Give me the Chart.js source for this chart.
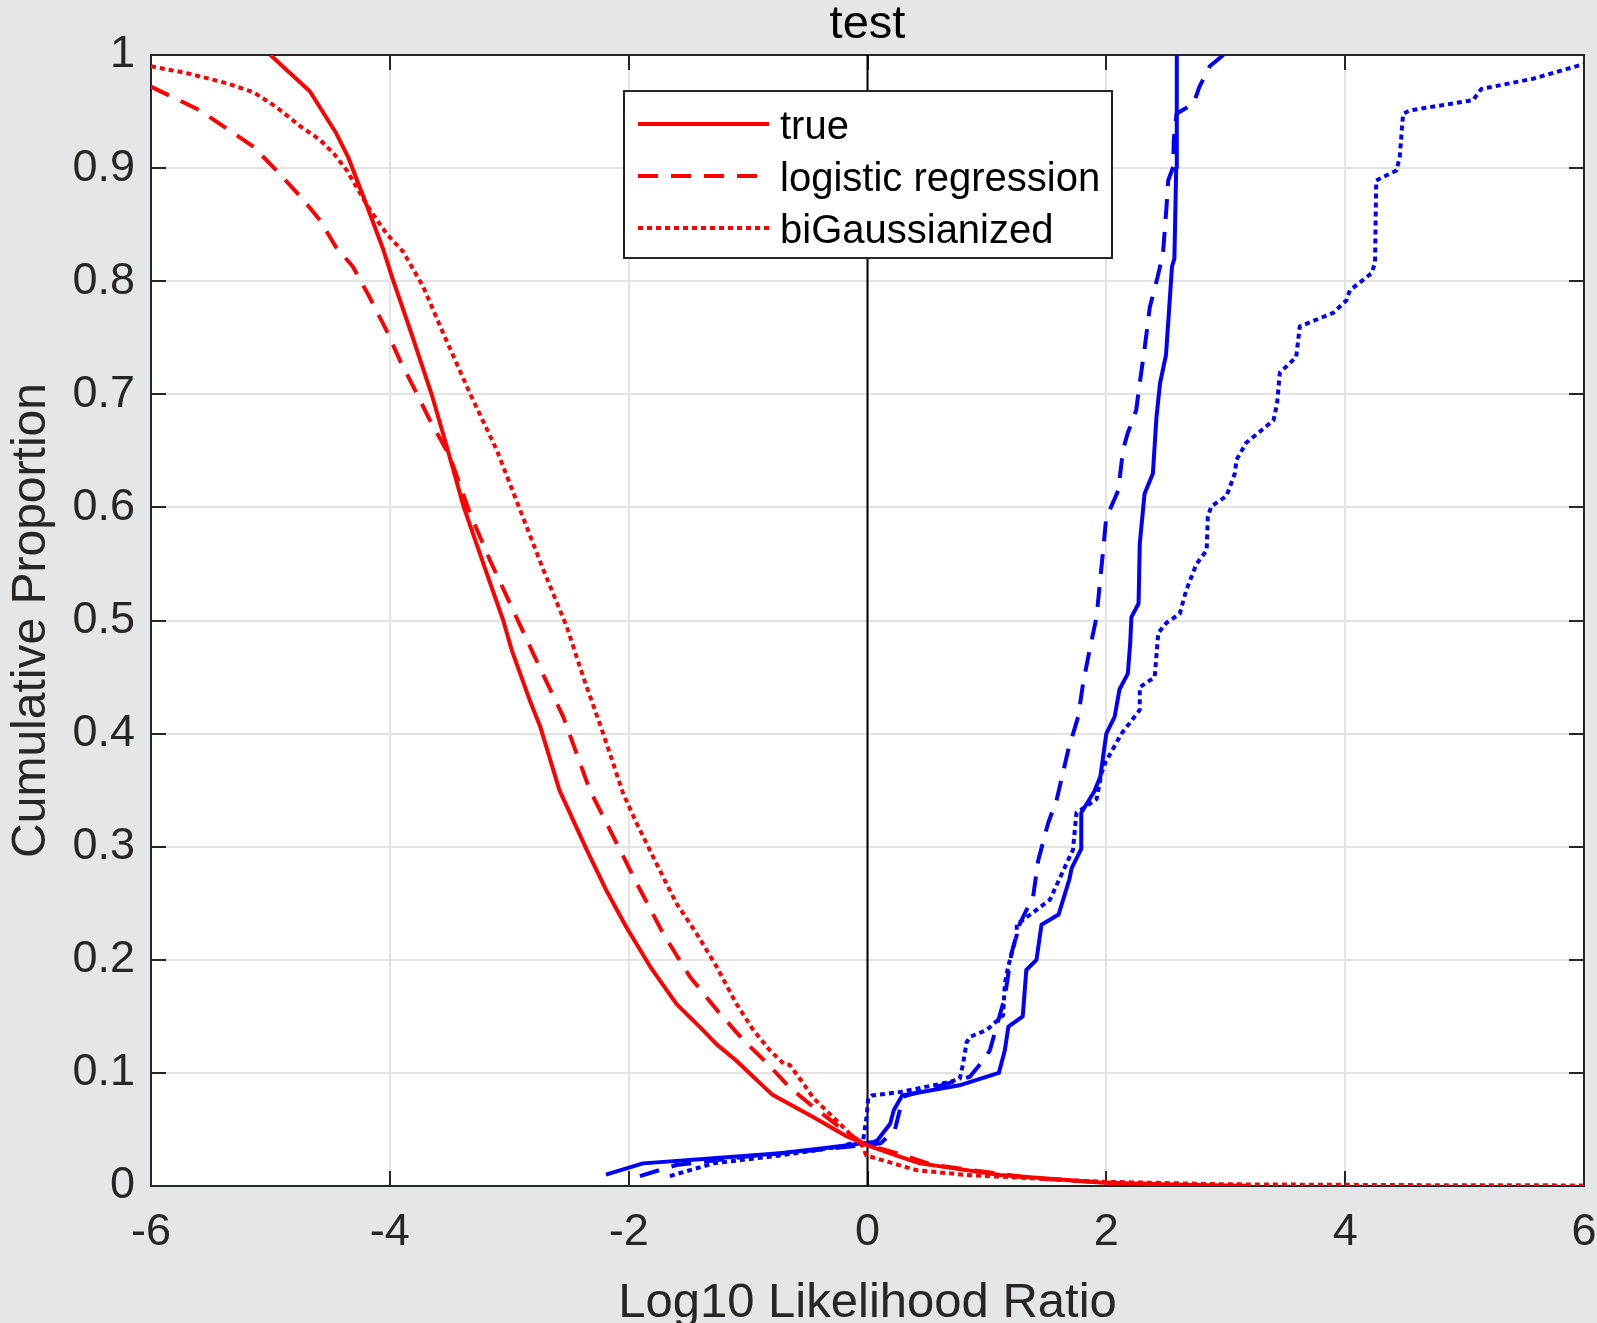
<!DOCTYPE html>
<html>
<head>
<meta charset="utf-8">
<title>test</title>
<script src="https://cdn.jsdelivr.net/npm/chart.js@4.4.1/dist/chart.umd.min.js"></script>
<style>
  html, body { margin: 0; padding: 0; background: #e5e6e8; }
  #wrap { width: 1597px; height: 1323px; }
</style>
</head>
<body>
<div id="wrap"><canvas id="cdf"></canvas></div>
<script>
// Cumulative proportions vs. log10 likelihood ratio
const xTicks = [-6, -4, -2, 0, 2, 4, 6];
const yTicks = [0, 0.1, 0.2, 0.3, 0.4, 0.5, 0.6, 0.7, 0.8, 0.9, 1];

// red: decreasing curves
const redTrueX = [-5.0, -4.67, -4.45, -4.35, -4.19, -4.055, -3.97, -3.82, -3.65, -3.54, -3.38, -3.16, -3.05, -2.98, -2.83, -2.74, -2.58, -2.35, -2.19, -2.02, -1.82, -1.60, -1.38, -1.26, -1.10, -0.80, -0.455, -0.175, 0, 0.27, 0.44, 1.11, 1.95, 2.59, 3.2];
const redTrueY = [1.0, 0.968, 0.931, 0.91, 0.866, 0.828, 0.8, 0.754, 0.7, 0.66, 0.6, 0.533, 0.5, 0.474, 0.43, 0.406, 0.35, 0.297, 0.262, 0.229, 0.194, 0.161, 0.138, 0.125, 0.111, 0.081, 0.061, 0.044, 0.036, 0.026, 0.02, 0.0097, 0.003, 0.001, 0.0003];

const redLogX = [-6.0, -5.59, -5.366, -5.143, -4.95, -4.75, -4.585, -4.45, -4.31, -4.17, -4.03, -3.915, -3.776, -3.664, -3.497, -3.33, -3.16, -2.967, -2.80, -2.63, -2.548, -2.325, -2.10, -1.934, -1.71, -1.487, -1.264, -1.04, -0.845, -0.65, -0.455, -0.232, -0.036, 0.243, 0.55, 1.387, 2.0, 2.8];
const redLogY = [0.972, 0.951, 0.935, 0.919, 0.898, 0.875, 0.854, 0.830, 0.813, 0.786, 0.757, 0.730, 0.701, 0.677, 0.645, 0.595, 0.553, 0.509, 0.471, 0.433, 0.415, 0.350, 0.303, 0.268, 0.223, 0.185, 0.156, 0.129, 0.109, 0.087, 0.070, 0.052, 0.0377, 0.029, 0.0186, 0.0068, 0.003, 0.0005];

const redBgX = [-6.0, -5.70, -5.366, -5.14, -4.95, -4.75, -4.585, -4.47, -4.36, -4.25, -4.166, -4.027, -3.888, -3.72, -3.553, -3.33, -3.106, -2.91, -2.715, -2.52, -2.38, -2.213, -2.046, -1.934, -1.767, -1.60, -1.43, -1.264, -1.10, -0.957, -0.818, -0.70, -0.65, -0.54, -0.455, -0.26, -0.04, -0.01, 0.215, 0.41, 0.83, 1.387, 1.945, 3.0, 4.5, 6.0];
const redBgY = [0.990, 0.984, 0.975, 0.967, 0.954, 0.937, 0.925, 0.913, 0.898, 0.878, 0.863, 0.842, 0.826, 0.795, 0.754, 0.701, 0.651, 0.598, 0.545, 0.495, 0.45, 0.40, 0.347, 0.321, 0.285, 0.25, 0.223, 0.194, 0.1615, 0.138, 0.120, 0.108, 0.107, 0.091, 0.078, 0.058, 0.035, 0.027, 0.020, 0.014, 0.0097, 0.0068, 0.0038, 0.0015, 0.0008, 0.0005];

// blue: increasing curves
const blueTrueX = [-2.19, -1.88, -1.29, -0.73, -0.32, 0.05, 0.08, 0.19, 0.22, 0.29, 0.77, 1.10, 1.15, 1.18, 1.30, 1.33, 1.415, 1.457, 1.60, 1.69, 1.71, 1.79, 1.79, 1.90, 1.95, 2.0, 2.07, 2.11, 2.18, 2.2, 2.21, 2.27, 2.28, 2.32, 2.39, 2.42, 2.45, 2.50, 2.55, 2.57, 2.585, 2.59];
const blueTrueY = [0.01, 0.02, 0.0245, 0.029, 0.034, 0.039, 0.040, 0.055, 0.067, 0.08, 0.089, 0.1, 0.12, 0.141, 0.15, 0.191, 0.2, 0.231, 0.24, 0.271, 0.281, 0.298, 0.33, 0.349, 0.362, 0.40, 0.415, 0.439, 0.453, 0.48, 0.503, 0.515, 0.568, 0.612, 0.63, 0.68, 0.71, 0.735, 0.813, 0.82, 0.9, 1.0];

const blueLogX = [-1.906, -1.60, -1.013, -0.315, 0.11, 0.229, 0.27, 0.30, 0.857, 0.969, 1.025, 1.15, 1.206, 1.276, 1.387, 1.43, 1.513, 1.583, 1.68, 1.764, 1.805, 1.86, 1.918, 1.946, 1.973, 2.0, 2.03, 2.1, 2.14, 2.18, 2.22, 2.25, 2.28, 2.32, 2.364, 2.43, 2.475, 2.504, 2.518, 2.56, 2.565, 2.588, 2.73, 2.78, 2.866, 2.98];
const blueLogY = [0.0088, 0.0186, 0.026, 0.033, 0.0377, 0.0495, 0.067, 0.079, 0.0966, 0.111, 0.12, 0.167, 0.206, 0.232, 0.256, 0.288, 0.321, 0.341, 0.385, 0.415, 0.444, 0.474, 0.503, 0.533, 0.562, 0.592, 0.598, 0.615, 0.651, 0.666, 0.677, 0.686, 0.710, 0.74, 0.777, 0.804, 0.825, 0.866, 0.889, 0.901, 0.925, 0.948, 0.957, 0.972, 0.990, 1.0];

const blueBgX = [-1.655, -1.29, -0.734, -0.232, -0.036, -0.008, 0.006, 0.034, 0.27, 0.69, 0.773, 0.80, 0.83, 0.86, 1.0, 1.136, 1.15, 1.178, 1.25, 1.25, 1.30, 1.527, 1.666, 1.72, 1.75, 1.918, 1.96, 1.99, 2.127, 2.28, 2.28, 2.405, 2.435, 2.504, 2.615, 2.67, 2.755, 2.84, 2.85, 2.88, 3.006, 3.076, 3.09, 3.17, 3.40, 3.43, 3.453, 3.59, 3.62, 3.9, 4.01, 4.04, 4.22, 4.25, 4.26, 4.43, 4.457, 4.485, 4.54, 5.07, 5.14, 5.573, 6.0];
const blueBgY = [0.0088, 0.020, 0.027, 0.0347, 0.0407, 0.061, 0.0775, 0.080, 0.083, 0.092, 0.095, 0.108, 0.127, 0.132, 0.138, 0.151, 0.179, 0.194, 0.222, 0.232, 0.235, 0.253, 0.285, 0.297, 0.330, 0.342, 0.365, 0.374, 0.400, 0.421, 0.441, 0.450, 0.489, 0.498, 0.506, 0.527, 0.550, 0.562, 0.592, 0.601, 0.610, 0.630, 0.642, 0.657, 0.677, 0.692, 0.719, 0.733, 0.760, 0.772, 0.783, 0.792, 0.807, 0.816, 0.889, 0.898, 0.910, 0.948, 0.951, 0.960, 0.970, 0.979, 0.992];

// x = 0 reference line
const zeroLineX = [0, 0];
const zeroLineY = [0, 1];

const FONT = "'Liberation Sans', Arial, Helvetica, sans-serif";
const AXIS_COLOR = "#262626";
const DASH = [20, 13];
const DOT = [5, 4];

const pts = (xs, ys) => xs.map((x, i) => ({ x: x, y: ys[i] }));

function curve(label, xs, ys, color, dash, order, inLegend) {
  return {
    label: label,
    data: pts(xs, ys),
    borderColor: color,
    borderWidth: 4,
    borderDash: dash,
    borderCapStyle: "butt",
    borderJoinStyle: "round",
    pointRadius: 0,
    showLine: true,
    fill: false,
    tension: 0,
    order: order,
    inLegend: inLegend,
  };
}

// canvas/plot backgrounds
const backdrop = {
  id: "backdrop",
  beforeDraw(chart) {
    const { ctx, chartArea: a } = chart;
    ctx.save();
    ctx.fillStyle = "#e5e6e8";
    ctx.fillRect(0, 0, chart.width, chart.height);
    ctx.fillStyle = "#ffffff";
    ctx.fillRect(a.left, a.top, a.right - a.left, a.bottom - a.top);
    ctx.restore();
  },
};

// box around the axes with inward tick marks on all four sides
const axesBox = {
  id: "axesBox",
  beforeDatasetsDraw(chart) {
    const { ctx, chartArea: a, scales } = chart;
    const len = 15;
    ctx.save();
    ctx.strokeStyle = AXIS_COLOR;
    ctx.lineWidth = 2;
    ctx.beginPath();
    scales.x.ticks.forEach(t => {
      const px = Math.round(scales.x.getPixelForValue(t.value));
      ctx.moveTo(px, a.bottom); ctx.lineTo(px, a.bottom - len);
      ctx.moveTo(px, a.top); ctx.lineTo(px, a.top + len);
    });
    scales.y.ticks.forEach(t => {
      const py = Math.round(scales.y.getPixelForValue(t.value));
      ctx.moveTo(a.left, py); ctx.lineTo(a.left + len, py);
      ctx.moveTo(a.right, py); ctx.lineTo(a.right - len, py);
    });
    ctx.stroke();
    ctx.strokeRect(a.left, a.top, a.right - a.left, a.bottom - a.top);
    ctx.restore();
  },
};

// legend box (red entries only)
const legendBox = {
  id: "legendBox",
  afterDraw(chart) {
    const { ctx } = chart;
    const items = chart.data.datasets.filter(d => d.inLegend);
    const box = { x: 624, y: 91, w: 488, h: 167 };
    ctx.save();
    ctx.fillStyle = "#ffffff";
    ctx.fillRect(box.x, box.y, box.w, box.h);
    ctx.strokeStyle = AXIS_COLOR;
    ctx.lineWidth = 2;
    ctx.strokeRect(box.x, box.y, box.w, box.h);
    ctx.font = "40px " + FONT;
    ctx.textBaseline = "middle";
    ctx.textAlign = "left";
    items.forEach((d, i) => {
      const y = 124 + i * 52;
      ctx.beginPath();
      ctx.strokeStyle = d.borderColor;
      ctx.lineWidth = d.borderWidth;
      ctx.lineCap = "butt";
      ctx.setLineDash(d.borderDash || []);
      ctx.moveTo(638, y);
      ctx.lineTo(769, y);
      ctx.stroke();
      ctx.setLineDash([]);
      ctx.fillStyle = "#000000";
      ctx.fillText(d.label, 780, y + 4);
    });
    ctx.restore();
  },
};

new Chart(document.getElementById("cdf"), {
  type: "scatter",
  data: {
    datasets: [
      curve("true", redTrueX, redTrueY, "#ff0000", [], 0, true),
      curve("logistic regression", redLogX, redLogY, "#ff0000", DASH, 0, true),
      curve("biGaussianized", redBgX, redBgY, "#ff0000", DOT, 0, true),
      curve("true (H2)", blueTrueX, blueTrueY, "#0000ff", [], 1, false),
      curve("logistic regression (H2)", blueLogX, blueLogY, "#0000ff", DASH, 1, false),
      curve("biGaussianized (H2)", blueBgX, blueBgY, "#0000ff", DOT, 1, false),
      Object.assign(curve("x = 0", zeroLineX, zeroLineY, "#000000", [], 2, false), { borderWidth: 2 }),
    ],
  },
  options: {
    responsive: true,
    maintainAspectRatio: false,
    animation: false,
    layout: { padding: { top: 0, right: 13, left: 0, bottom: 0 } },
    plugins: {
      legend: { display: false },
      tooltip: { enabled: false },
      title: {
        display: true,
        fullSize: false,
        text: "test",
        color: "#000000",
        font: { family: FONT, size: 47, weight: "normal", lineHeight: 1.0 },
        padding: { top: 2, bottom: 6 },
      },
    },
    scales: {
      x: {
        type: "linear",
        min: -6,
        max: 6,
        afterBuildTicks: s => { s.ticks = xTicks.map(v => ({ value: v })); },
        afterFit: s => { s.height = 137; s.paddingLeft = 0; s.paddingRight = 0; },
        ticks: {
          color: AXIS_COLOR,
          font: { family: FONT, size: 45 },
          padding: 20,
          maxRotation: 0,
        },
        grid: { color: "#e3e3e3", lineWidth: 2, drawTicks: false },
        border: { display: false },
        title: {
          display: true,
          text: "Log10 Likelihood Ratio",
          color: AXIS_COLOR,
          font: { family: FONT, size: 49 },
          padding: { top: 0, bottom: -10 },
        },
      },
      y: {
        type: "linear",
        min: 0,
        max: 1,
        afterBuildTicks: s => { s.ticks = yTicks.map(v => ({ value: v })); },
        afterFit: s => { s.width = 151; s.paddingTop = 0; s.paddingBottom = 0; },
        ticks: {
          color: AXIS_COLOR,
          font: { family: FONT, size: 45 },
          padding: 16,
          callback: v => String(Number(v.toFixed(1))),
        },
        grid: { color: "#e3e3e3", lineWidth: 2, drawTicks: false },
        border: { display: false },
        title: {
          display: true,
          text: "Cumulative Proportion",
          color: AXIS_COLOR,
          font: { family: FONT, size: 48 },
          padding: { top: 3, bottom: 0 },
        },
      },
    },
  },
  plugins: [backdrop, axesBox, legendBox],
});
</script>
</body>
</html>
